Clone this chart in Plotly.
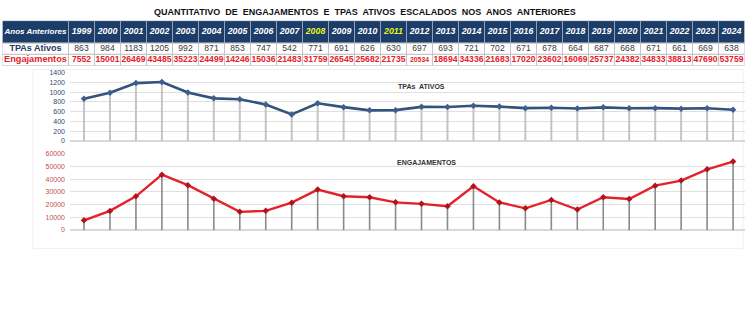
import plotly.graph_objects as go

years = list(range(1999, 2025))
tpas = [863, 984, 1183, 1205, 992, 871, 853, 747, 542, 771, 691, 626, 630,
        697, 693, 721, 702, 671, 678, 664, 687, 668, 671, 661, 669, 638]
engajamentos = [7552, 15001, 26469, 43485, 35223, 24499, 14246, 15036, 21483,
                31759, 26545, 25682, 21735, 20534, 18694, 34336, 21683, 17020,
                23602, 16069, 25737, 24382, 34833, 38813, 47690, 53759]
highlight_years = [2008, 2011]
small_values = [20534]
row_labels = ["Anos Anteriores", "TPAs Ativos", "Engajamentos"]

W, H = 745, 322
FONT = "Arial, Liberation Sans, sans-serif"
NAVY = "#1d3d69"
BLUE_LINE = "#34537c"
RED = "#e3222b"

def py(px):
    return 1 - px / H

fig = go.Figure()

# ---------- table (built on its own axis pair) ----------
col_w = [66] + [26] * len(years)
row_h = [23, 11.5, 11.5]
col_edges = [0]
for w in col_w:
    col_edges.append(col_edges[-1] + w)
row_edges = [0]
for h in row_h:
    row_edges.append(row_edges[-1] + h)

header_texts = [f"<i><b>{row_labels[0]}</b></i>"] + [f"<i><b>{y}</b></i>" for y in years]
header_colors = ["white"] + [("#e4f21e" if y in highlight_years else "white") for y in years]
header_sizes = [8] + [8.8] * len(years)
row1_texts = [f"<b>{row_labels[1]}</b>"] + [str(v) for v in tpas]
row1_colors = ["#1f3864"] + ["#3c3c3c"] * len(tpas)
row1_sizes = [9] + [8.6] * len(tpas)
row2_texts = [f"<b>{row_labels[2]}</b>"] + [f"<b>{v}</b>" for v in engajamentos]
row2_colors = [RED] * (len(engajamentos) + 1)
row2_sizes = [9.2] + [6.8 if v in small_values else 8.6 for v in engajamentos]

shapes = []
tx, ty, tt, tc, ts = [], [], [], [], []
rows = [(header_texts, header_colors, header_sizes),
        (row1_texts, row1_colors, row1_sizes),
        (row2_texts, row2_colors, row2_sizes)]
for r, (texts, colors, sizes) in enumerate(rows):
    for c in range(len(col_w)):
        fill = NAVY if r == 0 else "white"
        lc = "#8fa1bd" if r == 0 else "#c3c3c3"
        shapes.append(dict(type="rect", xref="x3", yref="y3",
                           x0=col_edges[c], x1=col_edges[c + 1],
                           y0=row_edges[r], y1=row_edges[r + 1],
                           fillcolor=fill, line=dict(color=lc, width=1), layer="below"))
        tx.append((col_edges[c] + col_edges[c + 1]) / 2)
        ty.append((row_edges[r] + row_edges[r + 1]) / 2)
        tt.append(texts[c])
        tc.append(colors[c])
        ts.append(sizes[c])

fig.add_trace(go.Scatter(x=tx, y=ty, text=tt, mode="text", textposition="middle center",
                         textfont=dict(family=FONT, color=tc, size=ts),
                         xaxis="x3", yaxis="y3", hoverinfo="skip", showlegend=False,
                         cliponaxis=False))

# ---------- drop lines helpers ----------
def drops(xs, ys):
    dx, dy = [], []
    for x, y in zip(xs, ys):
        dx += [x, x, None]
        dy += [0, y, None]
    return dx, dy

# top chart
dx, dy = drops(years, tpas)
fig.add_trace(go.Scatter(x=dx, y=dy, mode="lines", line=dict(color="#c4c4c4", width=2),
                         xaxis="x", yaxis="y", hoverinfo="skip", showlegend=False))
fig.add_trace(go.Scatter(x=years, y=tpas, mode="lines+markers",
                         line=dict(color=BLUE_LINE, width=2.6),
                         marker=dict(symbol="diamond", size=5, color="#3b5f8f"),
                         xaxis="x", yaxis="y", showlegend=False, cliponaxis=False))

# bottom chart
dx, dy = drops(years, engajamentos)
fig.add_trace(go.Scatter(x=dx, y=dy, mode="lines", line=dict(color="#8a8a8a", width=1.6),
                         xaxis="x2", yaxis="y2", hoverinfo="skip", showlegend=False))
fig.add_trace(go.Scatter(x=years, y=engajamentos, mode="lines+markers",
                         line=dict(color=RED, width=2.4),
                         marker=dict(symbol="diamond", size=5, color="#b0141c"),
                         xaxis="x2", yaxis="y2", showlegend=False, cliponaxis=False))

xrange = [1998.46, 2024.46]
xdom = [70 / W, 1.0]
axis_common = dict(showgrid=False, zeroline=False, showticklabels=False, range=xrange,
                   domain=xdom, fixedrange=True, showline=False)
hidden = dict(visible=False, showgrid=False, zeroline=False, fixedrange=True)

fig.update_layout(
    width=W, height=H,
    margin=dict(l=0, r=0, t=0, b=0),
    paper_bgcolor="white", plot_bgcolor="white",
    font=dict(family=FONT),
    xaxis=dict(**axis_common, anchor="y"),
    xaxis2=dict(**axis_common, anchor="y2"),
    xaxis3=dict(**hidden, domain=[2.5 / W, 744.5 / W], range=[0, col_edges[-1]], anchor="y3"),
    yaxis3=dict(**hidden, domain=[py(17 + row_edges[-1]), py(17)],
                range=[row_edges[-1], 0], anchor="x3"),
    yaxis=dict(domain=[py(140), py(70)], range=[0, 1400], dtick=200, tickformat="d",
               gridcolor="#e0e0e0", gridwidth=1, zeroline=True, zerolinecolor="#d9d9d9",
               tickfont=dict(size=7, color="#2f4a6e", family=FONT), ticks="",
               ticklabelstandoff=4, anchor="x"),
    yaxis2=dict(domain=[py(231), py(153)], range=[0, 60000], dtick=10000, tickformat="d",
                gridcolor="#e0e0e0", gridwidth=1, zeroline=True, zerolinecolor="#d9d9d9",
                tickfont=dict(size=7, color="#c0504d", family=FONT), ticks="",
                ticklabelstandoff=4, anchor="x2"),
    shapes=[dict(type="rect", xref="paper", yref="paper", x0=33 / W, x1=743 / W,
                 y0=py(250), y1=py(67), line=dict(color="#f0f0f0", width=1),
                 layer="below")] + shapes,
    annotations=[
        dict(text="<b>QUANTITATIVO  DE  ENGAJAMENTOS  E  TPAS  ATIVOS  ESCALADOS  NOS  ANOS  ANTERIORES</b>",
             x=365 / W, y=py(8), xref="paper", yref="paper", showarrow=False,
             font=dict(size=9, color="#111111", family=FONT), xanchor="center", yanchor="middle"),
        dict(text="<b>TPAs  ATIVOS</b>", x=396 / W, y=py(84), xref="paper", yref="paper",
             showarrow=False, xanchor="left", yanchor="middle",
             font=dict(size=7, color="#333333", family=FONT)),
        dict(text="<b>ENGAJAMENTOS</b>", x=395 / W, y=py(162), xref="paper", yref="paper",
             showarrow=False, xanchor="left", yanchor="middle",
             font=dict(size=7, color="#333333", family=FONT)),
    ],
)

fig.write_html("out.html", config={"displayModeBar": False})
